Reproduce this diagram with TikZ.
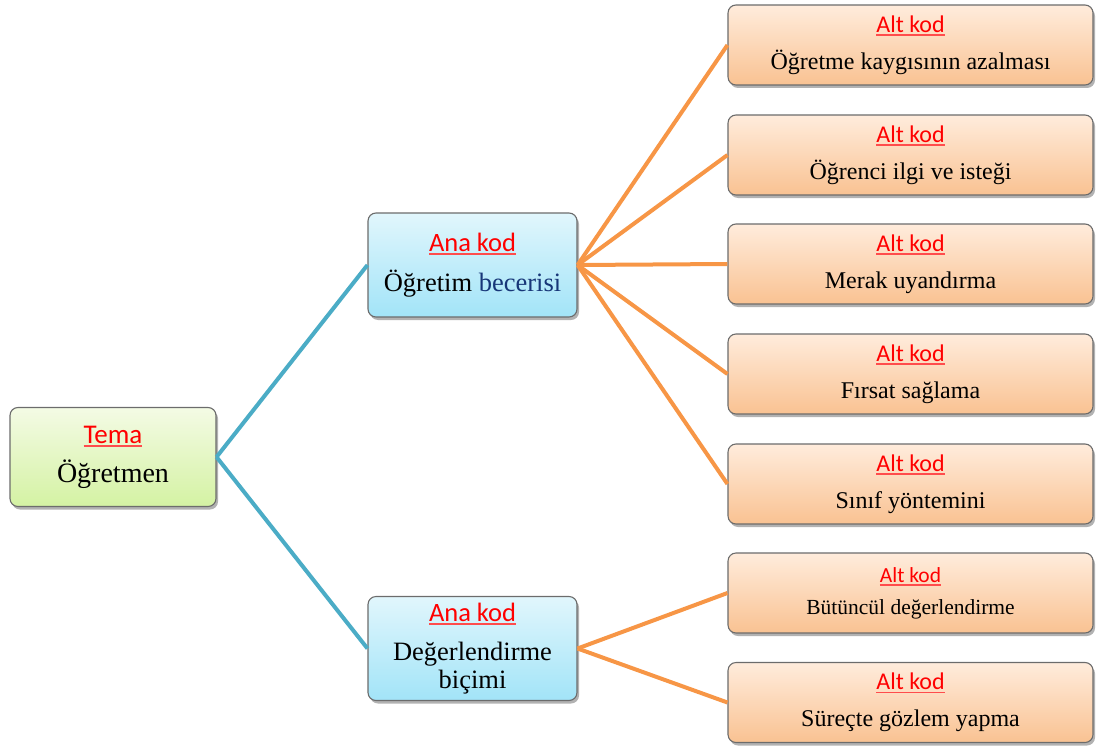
\documentclass[tikz,border=0pt]{standalone}
\usepackage{fontspec}
\setmainfont{Liberation Serif}
\newfontfamily\kodfont{Carlito}
\usetikzlibrary{shapes, arrows}
\usetikzlibrary{shadows}
\usetikzlibrary{positioning}

\newcommand{\kod}[1]{{\kodfont\setbox0=\hbox{#1}\rlap{\textcolor{red!70!white}{\rule[-3.5pt]{\wd0}{1.5pt}}}\textcolor{red}{\box0}}}

\begin{document}
\begin{tikzpicture}[x=1pt,y=-1pt,
		box/.style={draw=gray!85!black,line width=1.1pt,rounded corners=8pt,align=center,inner sep=0pt,
			drop shadow={shadow xshift=2pt,shadow yshift=-3pt,opacity=0.3,fill=black}},
		temabox/.style={box,minimum width=206pt,minimum height=99pt,top color=temaust,bottom color=temaalt,font=\fontsize{27}{39}\selectfont},
		anabox/.style={box,minimum width=209pt,minimum height=104pt,top color=anaust,bottom color=anaalt,font=\fontsize{26.5}{40}\selectfont},
		altbox/.style={box,minimum width=365pt,minimum height=80pt,top color=altust,bottom color=altalt,font=\fontsize{24}{37}\selectfont},
		temaedge/.style={draw=teal1,line width=4pt},
		anaedge/.style={draw=orange1,line width=4pt}]
		    \definecolor{temaust}{RGB}{244,251,229}
		    \definecolor{temaalt}{RGB}{212,242,163}
		    \definecolor{anaust}{RGB}{225,246,252}
		    \definecolor{anaalt}{RGB}{162,228,248}
		    \definecolor{altust}{RGB}{255,236,220}
		    \definecolor{altalt}{RGB}{249,194,146}
		    \definecolor{teal1}{RGB}{75,172,198}
		    \definecolor{orange1}{RGB}{247,150,70}
		    \definecolor{koyumavi}{RGB}{23,54,120}
		    \useasboundingbox (0,0) rectangle (1107,749);

		    \node[temabox] (tema) at (113,457) {\kod{Tema}\\\fontsize{28}{39}\selectfont Öğretmen};
		    \node[anabox] (ana1) at (472.5,265) {\kod{Ana kod}\\Öğretim \textcolor{koyumavi}{becerisi}};
		    \node[anabox,font=\fontsize{26.5}{28}\selectfont] (ana2) at (472.5,648.5) {\kod{Ana kod}\\[11pt]Değerlendirme\\biçimi};

		    \foreach \n/\yy/\metin in {1/45/{Öğretme kaygısının azalması},2/155/{Öğrenci ilgi ve isteği},3/264/{Merak uyandırma},4/374/{Fırsat sağlama},5/484/{Sınıf yöntemini},7/702.5/{Süreçte gözlem yapma}}{
			\node[altbox] (alt\n) at (910.5,\yy) {\kod{Alt kod}\\\metin};
		    }
		    \node[altbox,font=\fontsize{21.5}{32}\selectfont] (alt6) at (910.5,593) {\kod{Alt kod}\\Bütüncül değerlendirme};

		    \draw[temaedge] (tema.east) -- (ana1.west);
		    \draw[temaedge] (tema.east) -- (ana2.west);
		    \foreach \n in {1,...,5}{
			\draw[anaedge] (ana1.east) -- (alt\n.west);
		    }
		    \foreach \n in {6,7}{
			\draw[anaedge] (ana2.east) -- (alt\n.west);
		    }
\end{tikzpicture}
\end{document}
